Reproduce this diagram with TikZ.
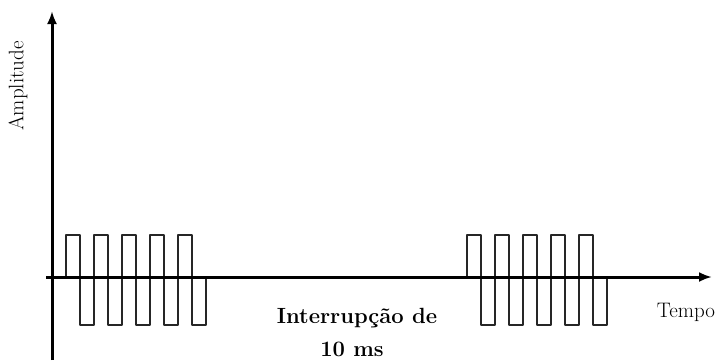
\documentclass[tikz,border=0pt]{standalone}
\usetikzlibrary{arrows.meta}
\begin{document}
\begin{tikzpicture}[x=1pt, y=-1pt, >={Latex[length=13pt,width=10pt]},
    axis/.style={line width=3pt, ->},
    wave/.style={line width=1.8pt, line join=round, black!85},
    lbl/.style={font=\fontsize{21}{24}\selectfont},
    gaplbl/.style={font=\fontsize{22}{24}\selectfont\bfseries, anchor=base}]
\useasboundingbox (0,0) rectangle (717,362);
\coordinate (xstart) at (46,277);
\coordinate (xend) at (712,277);
\coordinate (ystart) at (52,360);
\coordinate (yend) at (52,11);
% bursts
\foreach \s in {66,467}
{
    \draw[wave] (\s,277) -- (\s,235)
        \foreach \i in {0,...,3}{ -- ++(14,0) -- ++(0,90) -- ++(14,0) -- ++(0,-90)}
        -- ++(14,0) -- ++(0,90) -- ++(14,0) -- ++(0,-48);
}
\draw[axis](xstart)--(xend);
\draw[axis](ystart)--(yend);
\node[lbl, rotate=90] (amp) at (18,86) {Amplitude};
\node[lbl] (tempo) at (686,312) {Tempo};
\node[gaplbl] (gap) at (357,323) {Interrupção de};
\node[gaplbl] (gapms) at (352,356) {10 ms};
\end{tikzpicture}
\end{document}
